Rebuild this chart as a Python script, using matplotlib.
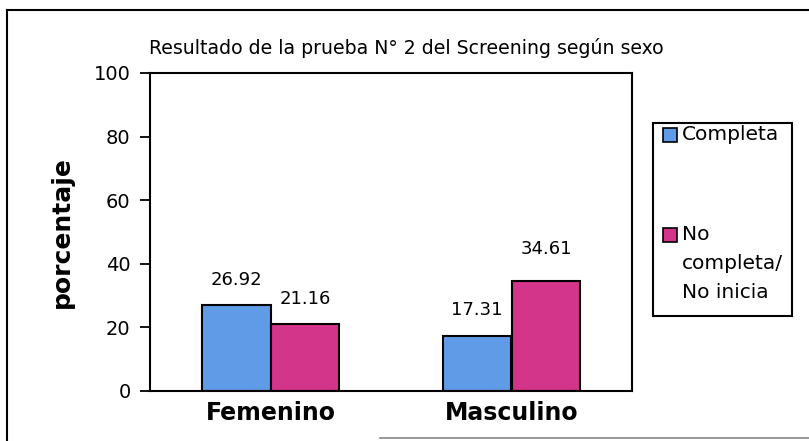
import matplotlib
matplotlib.use("Agg")
import matplotlib.pyplot as plt
import numpy as np
from matplotlib.lines import Line2D
from matplotlib.patches import Rectangle

categories = ["Femenino", "Masculino"]
series_names = ["Completa", "No\ncompleta/\nNo inicia"]
completa = [26.92, 17.31]
no_completa = [21.16, 34.61]
yticks = [0, 20, 40, 60, 80, 100]

W, H = 809, 441
plt.rcParams['font.family'] = ['DejaVu Sans']
fig = plt.figure(figsize=(W / 100, H / 100), dpi=100)

def fx(px):
    return px / W

def fy(py):
    return 1 - py / H

ax = fig.add_axes([fx(150), fy(391), (632 - 150) / W, (391 - 73) / H])
x = np.arange(len(categories))
w = 0.286
c_blue = "#5f9be6"
c_pink = "#d3358a"
b1 = ax.bar(x - w / 2, completa, w, color=c_blue, edgecolor="black", linewidth=1.5)
b2 = ax.bar(x + w / 2, no_completa, w, color=c_pink, edgecolor="black", linewidth=1.5)

ax.set_xlim(-0.5, 1.5)
ax.set_ylim(0, 100)
ax.set_yticks(yticks)
ax.set_yticklabels([str(t) for t in yticks], fontsize=14)
ax.set_xticks(x)
ax.set_xticklabels(categories, fontsize=17, fontweight="bold")
ax.tick_params(axis="x", length=0, pad=7)
ax.tick_params(axis="y", length=7, width=1.3, pad=7)
for s in ax.spines.values():
    s.set_linewidth(1.5)

# label offsets in pixels above bar tops
for rects, vals, offs in ((b1, completa, [25, 26]), (b2, no_completa, [25, 32])):
    for r, v, o in zip(rects, vals, offs):
        ax.annotate(f"{v:.2f}", (r.get_x() + r.get_width() / 2, v),
                    xytext=(0, o * 0.72), textcoords="offset points",
                    ha="center", va="center", fontsize=13)

ax.set_ylabel("porcentaje", fontsize=18, fontweight="bold", labelpad=14)

fig.text(fx(406), fy(48), "Resultado de la prueba N° 2 del Screening según sexo",
         ha="center", va="center", fontsize=13.6)

# legend drawn manually
lx0, lx1, ly0, ly1 = 653, 792, 123, 316
box = Rectangle((fx(lx0), fy(ly1)), (lx1 - lx0) / W, (ly1 - ly0) / H,
                transform=fig.transFigure, facecolor="white", edgecolor="black", lw=1.5)
fig.add_artist(box)
for col, cy, label in ((c_blue, 135, series_names[0]), (c_pink, 235, series_names[1])):
    fig.add_artist(Rectangle((fx(663), fy(cy + 7)), 14 / W, 14 / H,
                             transform=fig.transFigure, facecolor=col,
                             edgecolor="black", lw=1.2))
    t = fig.text(fx(682), fy(cy - 10), label, ha="left", va="top",
                 fontsize=14.5, linespacing=1.65)
    t.set_clip_path(box)

# outer frame
fig.add_artist(Line2D([fx(7), fx(7)], [0, fy(10)], color="black", lw=1.5))
fig.add_artist(Line2D([fx(7), 1], [fy(10), fy(10)], color="black", lw=1.5))
fig.add_artist(Line2D([fx(380), 1], [fy(438), fy(438)], color="#888888", lw=1.2))

fig.savefig("out.png", dpi=100)
